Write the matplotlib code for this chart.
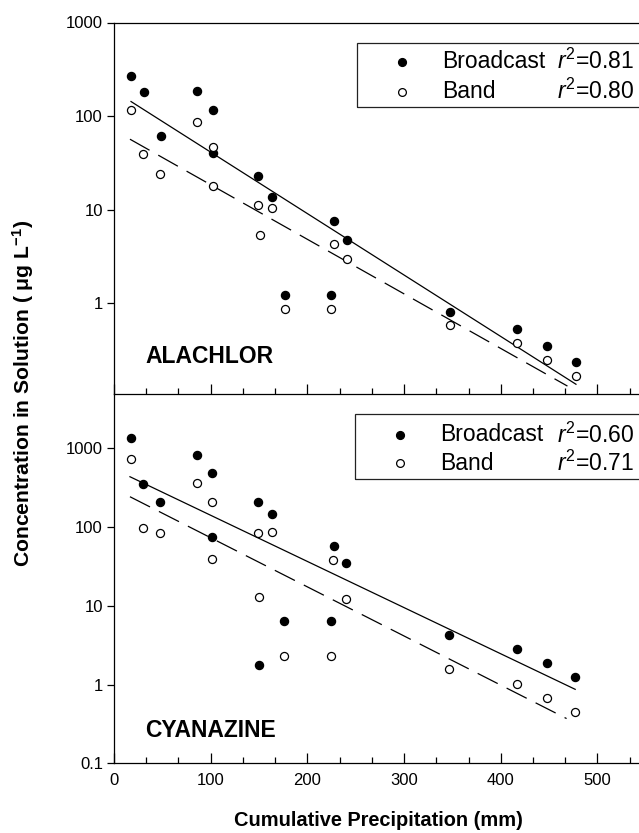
import matplotlib
matplotlib.use("Agg")
import matplotlib.pyplot as plt
from matplotlib.patches import Rectangle
from matplotlib.ticker import FixedLocator, MultipleLocator, NullLocator, FixedFormatter

plt.rcParams['font.family'] = ['Liberation Sans', 'DejaVu Sans']
plt.rcParams['mathtext.fontset'] = 'custom'
plt.rcParams['mathtext.rm'] = 'Liberation Sans'
plt.rcParams['mathtext.it'] = 'Liberation Sans:italic'
plt.rcParams['mathtext.bf'] = 'Liberation Sans:bold'

# ---- data (cumulative precipitation in mm, concentration in ug/L) ----
ala_bc_x = [17.6, 30.7, 48.3, 85.8, 102, 102, 149, 163, 176.8, 227.5, 240.6, 224.4, 347.5, 417, 448, 477.8]
ala_bc_y = [270, 183, 61, 185, 116, 40, 23, 13.8, 1.22, 7.6, 4.7, 1.22, 0.80, 0.53, 0.35, 0.233]
ala_band_x = [17.2, 30, 47.9, 85.8, 102, 102, 149, 151, 163, 176.8, 227.5, 240.6, 224.4, 347.5, 417, 448, 477.8]
ala_band_y = [116, 39, 24, 87, 47, 17.9, 11.1, 5.4, 10.5, 0.87, 4.3, 3.0, 0.87, 0.58, 0.38, 0.25, 0.168]
ala_fit_bc_x, ala_fit_bc_y = [17.6, 477.8], [143, 0.136]
ala_fit_band_x, ala_fit_band_y = [16.5, 469], [56.6, 0.13]
ala_r2 = ["0.81", "0.80"]

cya_bc_x = [17.2, 30, 47.9, 85.5, 101.7, 101.7, 148.6, 163, 176.1, 150.3, 227.5, 240, 224.4, 346.8, 416.4, 447.4, 477]
cya_bc_y = [1364, 352, 210, 815, 490, 74, 210, 146, 6.4, 1.77, 57, 34.7, 6.4, 4.26, 2.8, 1.9, 1.26]
cya_band_x = [17.2, 30, 47.9, 85.5, 101.7, 101.7, 148.6, 163, 150.3, 176.1, 226.8, 240, 224.4, 346.1, 416.4, 447.4, 477]
cya_band_y = [738, 96, 84, 359, 210, 39, 83, 86, 13, 2.3, 38, 12.1, 2.3, 1.56, 1.02, 0.68, 0.45]
cya_fit_bc_x, cya_fit_bc_y = [16.5, 477], [436, 0.87]
cya_fit_band_x, cya_fit_band_y = [16.5, 468.1], [243, 0.37]
cya_r2 = ["0.60", "0.71"]

W, H = 639, 833
fig = plt.figure(figsize=(W / 100, H / 100), dpi=100)


def fx(p):
    return p / W


def fy(p):
    return 1 - p / H


left = fx(114)
ax1 = fig.add_axes([left, fy(394), 1 - left, (394 - 22.5) / H])
ax2 = fig.add_axes([left, fy(763.3), 1 - left, (763.3 - 394) / H])
ax1.patch.set_visible(False)
ax2.patch.set_visible(False)
ax1.set_zorder(2)

panels = [
    (ax1, ala_bc_x, ala_bc_y, ala_band_x, ala_band_y, ala_fit_bc_x, ala_fit_bc_y,
     ala_fit_band_x, ala_fit_band_y, "ALACHLOR", (0.107, 1000), [1, 10, 100, 1000]),
    (ax2, cya_bc_x, cya_bc_y, cya_band_x, cya_band_y, cya_fit_bc_x, cya_fit_bc_y,
     cya_fit_band_x, cya_fit_band_y, "CYANAZINE", (0.1, 4900), [0.1, 1, 10, 100, 1000]),
]

for ax, bx, by, nx, ny, fbx, fby, fnx, fny, name, ylim, yt in panels:
    ax.set_yscale('log')
    ax.plot(fbx, fby, color='black', lw=0.9)
    ax.plot(fnx, fny, color='black', lw=0.9, linestyle=(0, (18, 8)))
    ax.plot(bx, by, 'o', color='black', ms=5.8, zorder=3)
    ax.plot(nx, ny, 'o', mfc='white', mec='black', mew=0.9, ms=5.8, zorder=3)
    ax.set_xlim(0, 543)
    ax.set_ylim(*ylim)
    ax.yaxis.set_major_locator(FixedLocator(yt))
    ax.yaxis.set_major_formatter(FixedFormatter([("%g" % v) for v in yt]))
    ax.yaxis.set_minor_locator(NullLocator())
    ax.xaxis.set_major_locator(MultipleLocator(100))
    ax.xaxis.set_minor_locator(MultipleLocator(100 / 3))
    ax.tick_params(axis='x', which='major', direction='in', length=7, width=0.9)
    ax.tick_params(axis='x', which='minor', direction='in', length=4, width=0.9)
    ax.tick_params(axis='y', which='major', direction='out', length=5, width=0.9,
                   labelsize=12, pad=3)
    ax.tick_params(axis='x', labelsize=12, pad=7)
    ax.spines['right'].set_visible(False)
    for s in ['left', 'bottom', 'top']:
        ax.spines[s].set_linewidth(0.9)
    ax.text(0.06, 0.1 if name == "ALACHLOR" else 0.09, name, transform=ax.transAxes,
            fontsize=16.5, fontweight='bold', va='center', ha='left')

ax1.tick_params(axis='x', labelbottom=False)
ax2.spines['top'].set_visible(False)

# legends drawn in figure pixel coordinates
legends = [(357, 43, 107, 402, 442, 61.7, 91.7, ala_r2),
           (355, 414, 479, 400, 440, 435, 463, cya_r2)]
for bx0, by0, by1, mx, tx, r1, r2, r2vals in legends:
    fig.patches.append(Rectangle((fx(bx0), fy(by1)), fx(W - bx0 + 5), (by1 - by0) / H,
                                 transform=fig.transFigure, fill=False, ec='#222222', lw=0.9))
    fig.lines.append(plt.Line2D([fx(mx)], [fy(r1)], marker='o', color='black', ms=5.6,
                                transform=fig.transFigure))
    fig.lines.append(plt.Line2D([fx(mx)], [fy(r2)], marker='o', mfc='white', mec='black',
                                mew=0.9, ms=5.6, transform=fig.transFigure))
    fig.text(fx(tx), fy(r1), "Broadcast", fontsize=16.5, va='center', ha='left')
    fig.text(fx(tx), fy(r2), "Band", fontsize=16.5, va='center', ha='left')
    fig.text(fx(634), fy(r1), r"$r^2$=" + r2vals[0], fontsize=16.5, va='center', ha='right')
    fig.text(fx(634), fy(r2), r"$r^2$=" + r2vals[1], fontsize=16.5, va='center', ha='right')

fig.text(fx(23), fy(393), r"Concentration in Solution ( $\mathbf{\mu}$g L$^{\mathbf{-1}}$)",
         rotation=90, fontsize=15.2, fontweight='bold', va='center', ha='center')
fig.text(fx(378), fy(821), "Cumulative Precipitation (mm)", fontsize=14.4,
         fontweight='bold', va='center', ha='center')

fig.savefig("out.png", dpi=100)
plt.close(fig)
